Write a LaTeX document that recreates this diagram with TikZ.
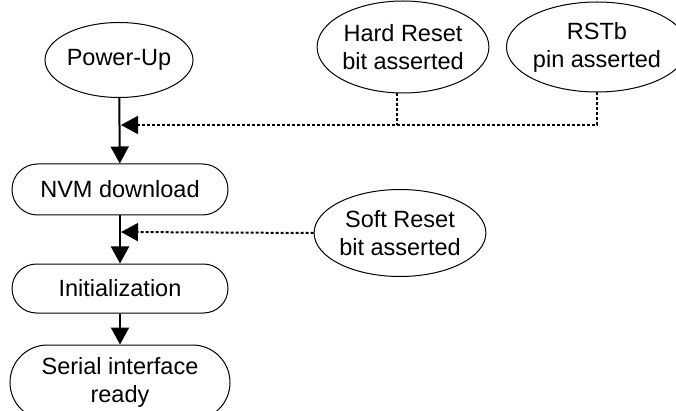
\documentclass[tikz,border=0pt]{standalone}
\usepackage{fontspec}
\setmainfont{Liberation Sans}
\usetikzlibrary{shapes.geometric,shapes.misc,arrows.meta}

\begin{document}
\begin{tikzpicture}[x=1pt,y=-1pt,
		box/.style={draw,line width=1pt,inner sep=0pt,align=center,font=\fontsize{23.5}{28}\selectfont},
		event/.style={box,ellipse},
		stage/.style={box,rounded rectangle,minimum width=216pt},
		flow/.style={line width=2pt,-{Triangle[length=17pt,width=18pt]}},
		trigger/.style={line width=2pt,dash pattern=on 3pt off 2pt}]
		\useasboundingbox (0,0) rectangle (676,411);
		% events
		\node[event,minimum width=148pt,minimum height=75pt] (pwr) at (119,60) {Power-Up};
		\node[event,minimum width=162pt,minimum height=92pt] (hard) at (403,47) {Hard Reset\\bit asserted};
		\node[event,minimum width=166pt,minimum height=90pt] (rst) at (597,47) {RSTb\\pin asserted};
		\node[event,minimum width=160pt,minimum height=87pt] (soft) at (400,233) {Soft Reset\\bit asserted};
		% stages
		\node[stage,minimum height=51pt] (nvm) at (120,189.5) {NVM download};
		\node[stage,minimum height=49pt] (init) at (120,288.5) {Initialization};
		\node[stage,minimum width=220pt,minimum height=75pt] (ser) at (120,382.5) {Serial interface\\ready};
		\coordinate (j1) at (120,125);
		\coordinate (j2) at (120,232);
		\draw[flow] (pwr) -- (nvm);
		\draw[flow] (nvm) -- (init);
		\draw[flow] (init) -- (ser);
		\draw[trigger,-{Triangle[length=17pt,width=18pt]},shorten >=1pt] (rst.south) |- (j1);
		\draw[trigger] ([xshift=-6pt]hard.south) -- ([xshift=-6pt]hard.south |- j1);
		\draw[trigger,-{Triangle[length=17pt,width=18pt]},shorten >=1pt] (soft.west) -- (j2);
	\end{tikzpicture}
\end{document}
